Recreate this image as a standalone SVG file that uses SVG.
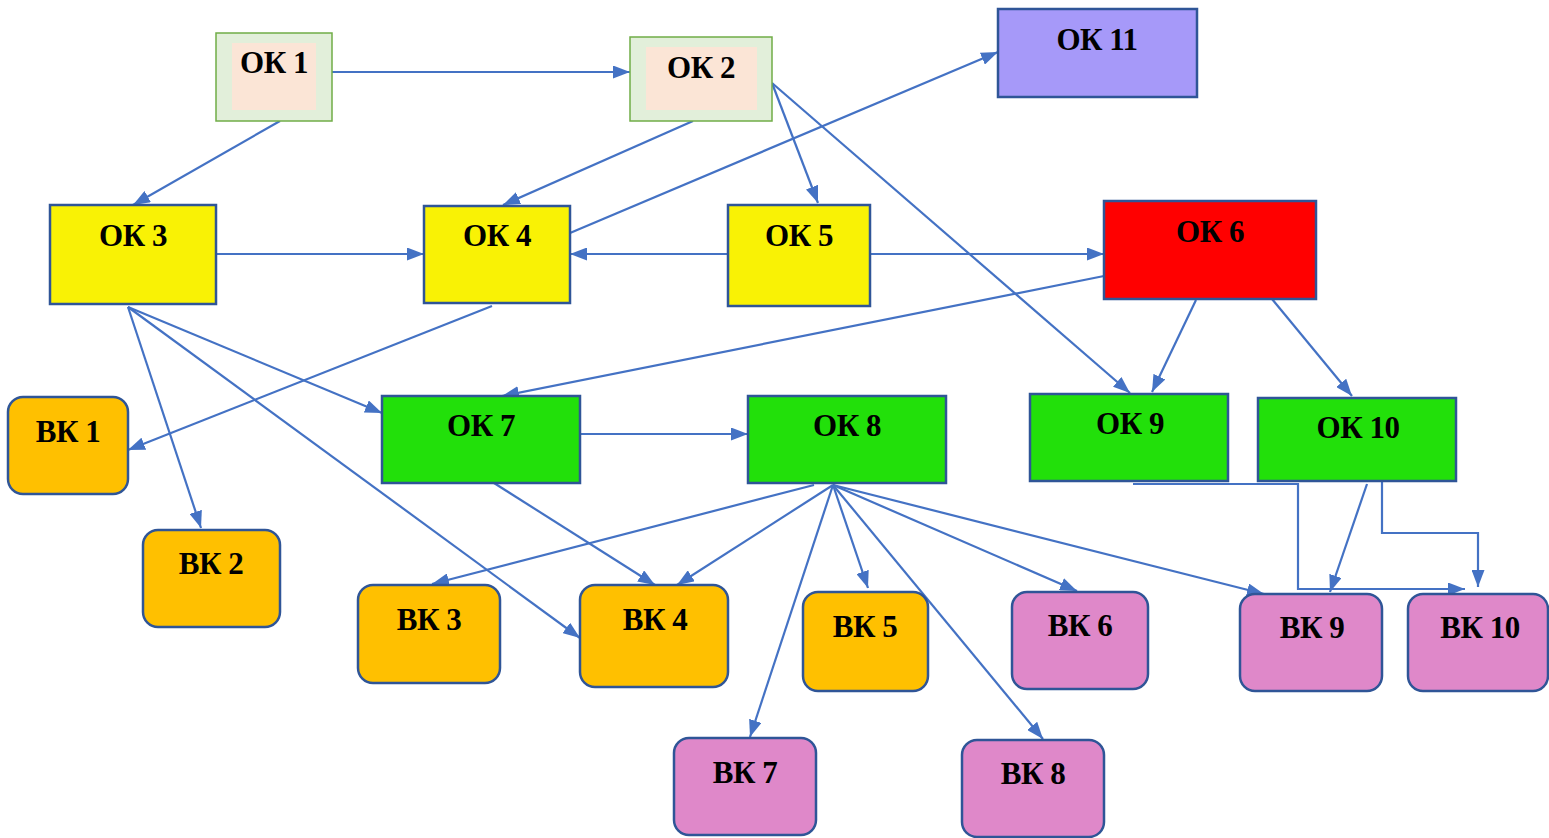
<svg xmlns="http://www.w3.org/2000/svg" width="1549" height="838" viewBox="0 0 1549 838">
<defs>
<marker id="arr" viewBox="0 0 17 13" refX="17" refY="6.5" markerWidth="17" markerHeight="13" markerUnits="userSpaceOnUse" orient="auto">
<path d="M0,0 L17,6.5 L0,13 Z" fill="#4472C4"/>
</marker>
<style>
.c{fill:none;stroke:#4472C4;stroke-width:2.2;marker-end:url(#arr)}
.b{stroke:#2F5597;stroke-width:2.5}
.g{fill:#E2EFDA;stroke:#70AD47;stroke-width:1.5}
.in{fill:#FBE5D6}
.y{fill:#F9F205}
.gr{fill:#22E00A}
.r{fill:#FF0000}
.p{fill:#A699F9}
.o{fill:#FFC000}
.pk{fill:#DF88C9}
text{font-family:"Liberation Serif","Times New Roman",serif;font-weight:bold;font-size:31px;fill:#000;text-anchor:middle;letter-spacing:-0.5px}
</style>
</defs>
<rect width="1549" height="838" fill="#fff"/>
<g id="connectors">
<path class="c" d="M332,72 L630,72"/>
<path class="c" d="M280,121 L133,205"/>
<path class="c" d="M693,121 L503,205"/>
<path class="c" d="M772,83 L818,203"/>
<path class="c" d="M772,83 L1130,393"/>
<path class="c" d="M570,233 L998,52"/>
<path class="c" d="M216,254 L424,254"/>
<path class="c" d="M728,254 L570,254"/>
<path class="c" d="M870,254 L1104,254"/>
<path class="c" d="M1104,276 L502,396"/>
<path class="c" d="M128,307 L382,413"/>
<path class="c" d="M128,307 L201,528"/>
<path class="c" d="M128,307 L580,638"/>
<path class="c" d="M492,306 L128,450"/>
<path class="c" d="M580,434 L748,434"/>
<path class="c" d="M494,483 L655,585"/>
<path class="c" d="M814,485 L432,584"/>
<path class="c" d="M833,485 L677,585"/>
<path class="c" d="M833,485 L868,588"/>
<path class="c" d="M833,485 L750,737"/>
<path class="c" d="M833,485 L1043,739"/>
<path class="c" d="M833,485 L1077,591"/>
<path class="c" d="M833,485 L1264,594"/>
<path class="c" d="M1196,300 L1152,392"/>
<path class="c" d="M1272,299 L1352,396"/>
<path class="c" d="M1133,484 L1298,484 L1298,589 L1465,589"/>
<path class="c" d="M1367,484 L1330,592"/>
<path class="c" d="M1382,480 L1382,533 L1478,533 L1478,587"/>
</g>
<g id="ok1"><rect class="g" x="216" y="33" width="116" height="88"/><rect class="in" x="232" y="43" width="84" height="67"/><text x="274" y="73">ОК 1</text></g>
<g id="ok2"><rect class="g" x="630" y="37" width="142" height="84"/><rect class="in" x="646" y="47" width="111" height="63"/><text x="701" y="78">ОК 2</text></g>
<g id="ok11"><rect class="p b" x="998" y="9" width="199" height="88"/><text x="1097" y="50">ОК 11</text></g>
<g id="ok3"><rect class="y b" x="50" y="205" width="166" height="99"/><text x="133" y="246">ОК 3</text></g>
<g id="ok4"><rect class="y b" x="424" y="206" width="146" height="97"/><text x="497" y="246">ОК 4</text></g>
<g id="ok5"><rect class="y b" x="728" y="205" width="142" height="101"/><text x="799" y="246">ОК 5</text></g>
<g id="ok6"><rect class="r b" x="1104" y="201" width="212" height="98"/><text x="1210" y="242">ОК 6</text></g>
<g id="ok7"><rect class="gr b" x="382" y="396" width="198" height="87"/><text x="481" y="436">ОК 7</text></g>
<g id="ok8"><rect class="gr b" x="748" y="396" width="198" height="87"/><text x="847" y="436">ОК 8</text></g>
<g id="ok9"><rect class="gr b" x="1030" y="394" width="198" height="87"/><text x="1130" y="434">ОК 9</text></g>
<g id="ok10"><rect class="gr b" x="1258" y="398" width="198" height="83"/><text x="1358" y="438">ОК 10</text></g>
<g id="vk1"><rect class="o b" x="8" y="397" width="120" height="97" rx="15"/><text x="68" y="442">ВК 1</text></g>
<g id="vk2"><rect class="o b" x="143" y="530" width="137" height="97" rx="15"/><text x="211" y="574">ВК 2</text></g>
<g id="vk3"><rect class="o b" x="358" y="585" width="142" height="98" rx="15"/><text x="429" y="630">ВК 3</text></g>
<g id="vk4"><rect class="o b" x="580" y="585" width="148" height="102" rx="15"/><text x="655" y="630">ВК 4</text></g>
<g id="vk5"><rect class="o b" x="803" y="592" width="125" height="99" rx="15"/><text x="865" y="637">ВК 5</text></g>
<g id="vk6"><rect class="pk b" x="1012" y="592" width="136" height="97" rx="15"/><text x="1080" y="636">ВК 6</text></g>
<g id="vk7"><rect class="pk b" x="674" y="738" width="142" height="97" rx="15"/><text x="745" y="783">ВК 7</text></g>
<g id="vk8"><rect class="pk b" x="962" y="740" width="142" height="97" rx="15"/><text x="1033" y="784">ВК 8</text></g>
<g id="vk9"><rect class="pk b" x="1240" y="594" width="142" height="97" rx="15"/><text x="1312" y="638">ВК 9</text></g>
<g id="vk10"><rect class="pk b" x="1408" y="594" width="140" height="97" rx="15"/><text x="1480" y="638">ВК 10</text></g>
</svg>
